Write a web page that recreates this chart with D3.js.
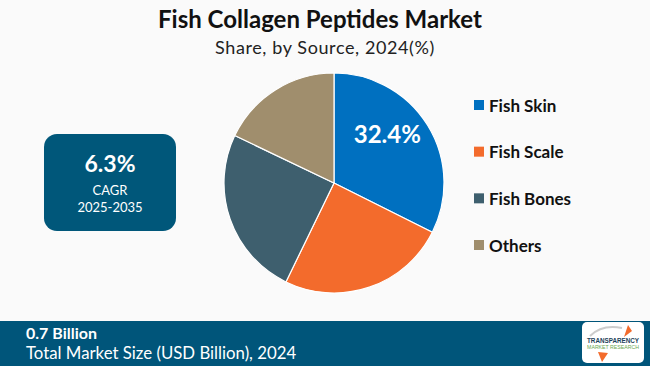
<!DOCTYPE html>
<html><head><meta charset="utf-8">
<script src="https://cdn.jsdelivr.net/npm/d3@7"></script>
<style>
html,body{margin:0;padding:0;background:#fafafa;}
svg{display:block;}
</style></head>
<body>
<svg id="chart" width="650" height="366"></svg>
<script>
const categories = ["Fish Skin", "Fish Scale", "Fish Bones", "Others"];
const shares = [32.4, 24.8, 24.9, 17.9];
const colors = ["#0070C0", "#F36B2C", "#3E5F6E", "#A08E6D"];
const labelledShare = "32.4%";
const title = "Fish Collagen Peptides Market";
const subtitle = "Share, by Source, 2024(%)";
const cagrValue = "6.3%";
const cagrLabel = ["CAGR", "2025-2035"];
const marketValue = "0.7 Billion";
const marketLabel = "Total Market Size (USD Billion), 2024";

const svg = d3.select("#chart");
const W = 650, H = 366;
svg.append("rect").attr("width", W).attr("height", H).attr("fill", "#fafafa");

svg.append("text").attr("x", 320).attr("y", 28).attr("text-anchor", "middle")
  .attr("font-family", "Lato").attr("font-weight", 700).attr("font-size", 24)
  .attr("fill", "#111").text(title);
svg.append("text").attr("x", 325).attr("y", 54).attr("text-anchor", "middle")
  .attr("font-family", "Lato").attr("font-size", 18).attr("letter-spacing", 0.6)
  .attr("fill", "#222").text(subtitle);

// CAGR box
const box = svg.append("g");
box.append("rect").attr("x", 44).attr("y", 134).attr("width", 132).attr("height", 97)
  .attr("rx", 13).attr("fill", "#00577A");
box.append("text").attr("x", 110).attr("y", 172).attr("text-anchor", "middle")
  .attr("font-family", "Lato").attr("font-weight", 700).attr("font-size", 23)
  .attr("fill", "#fff").text(cagrValue);
box.append("text").attr("x", 110).attr("y", 195).attr("text-anchor", "middle")
  .attr("font-family", "Lato").attr("font-size", 13).attr("fill", "#fff").text(cagrLabel[0]);
box.append("text").attr("x", 110).attr("y", 212).attr("text-anchor", "middle")
  .attr("font-family", "Lato").attr("font-size", 13).attr("fill", "#fff").text(cagrLabel[1]);

// Pie
const cx = 334, cy = 183, r = 110;
const pie = d3.pie().sort(null).value(d => d)(shares);
const arc = d3.arc().innerRadius(0).outerRadius(r);
const color = d3.scaleOrdinal().domain(categories).range(colors);
const g = svg.append("g").attr("transform", `translate(${cx},${cy})`);
g.selectAll("path").data(pie).join("path")
  .attr("d", arc).attr("fill", (d, i) => color(categories[i]))
  .attr("stroke", "#fff").attr("stroke-width", 1.2);
const lab = d3.arc().innerRadius(r * 0.57).outerRadius(r * 0.57);
const c0 = lab.centroid(pie[0]);
g.append("text").attr("x", c0[0]).attr("y", c0[1] - 17).attr("text-anchor", "middle")
  .attr("dominant-baseline", "central")
  .attr("font-family", "Lato").attr("font-weight", 700).attr("font-size", 24)
  .attr("fill", "#fff").text(labelledShare);

// Legend
const y = d3.scalePoint().domain(categories).range([105, 245]);
const leg = svg.append("g");
categories.forEach((c, i) => {
  leg.append("rect").attr("x", 474).attr("y", y(c) - 5).attr("width", 10).attr("height", 10)
    .attr("fill", color(c));
  leg.append("text").attr("x", 489).attr("y", y(c)).attr("dominant-baseline", "central")
    .attr("font-family", "Lato").attr("font-weight", 700).attr("font-size", 17)
    .attr("fill", "#111").text(c);
});

// Bottom band
svg.append("rect").attr("x", 0).attr("y", 321).attr("width", W).attr("height", 45).attr("fill", "#00557A");
svg.append("text").attr("x", 26).attr("y", 339).attr("font-family", "Lato").attr("font-weight", 700)
  .attr("font-size", 16).attr("fill", "#fff").text(marketValue);
svg.append("text").attr("x", 26).attr("y", 359).attr("font-family", "Lato")
  .attr("font-size", 16.8).attr("fill", "#fff").text(marketLabel);

// Logo
const logo = svg.append("g").attr("transform", "translate(582,322)");
logo.append("rect").attr("width", 62).attr("height", 41).attr("rx", 5).attr("fill", "#fff");
logo.append("path").attr("d", "M8,14 Q20,2 40,6").attr("fill", "none").attr("stroke", "#ccc").attr("stroke-width", 2);
logo.append("path").attr("d", "M42,15 L46,3 L50,9 Z").attr("fill", "#F36B2C");
logo.append("path").attr("d", "M16,30 L20,40 L26,31 Z").attr("fill", "#F36B2C");
logo.append("text").attr("x", 31).attr("y", 21).attr("text-anchor", "middle").attr("font-family", "Liberation Sans")
  .attr("font-weight", 700).attr("font-size", 6.3).attr("fill", "#1c3f5a").text("TRANSPARENCY");
logo.append("text").attr("x", 31).attr("y", 27).attr("text-anchor", "middle").attr("font-family", "Liberation Sans")
  .attr("font-size", 5.2).attr("fill", "#6aa84f").text("MARKET RESEARCH");
</script>
</body></html>
